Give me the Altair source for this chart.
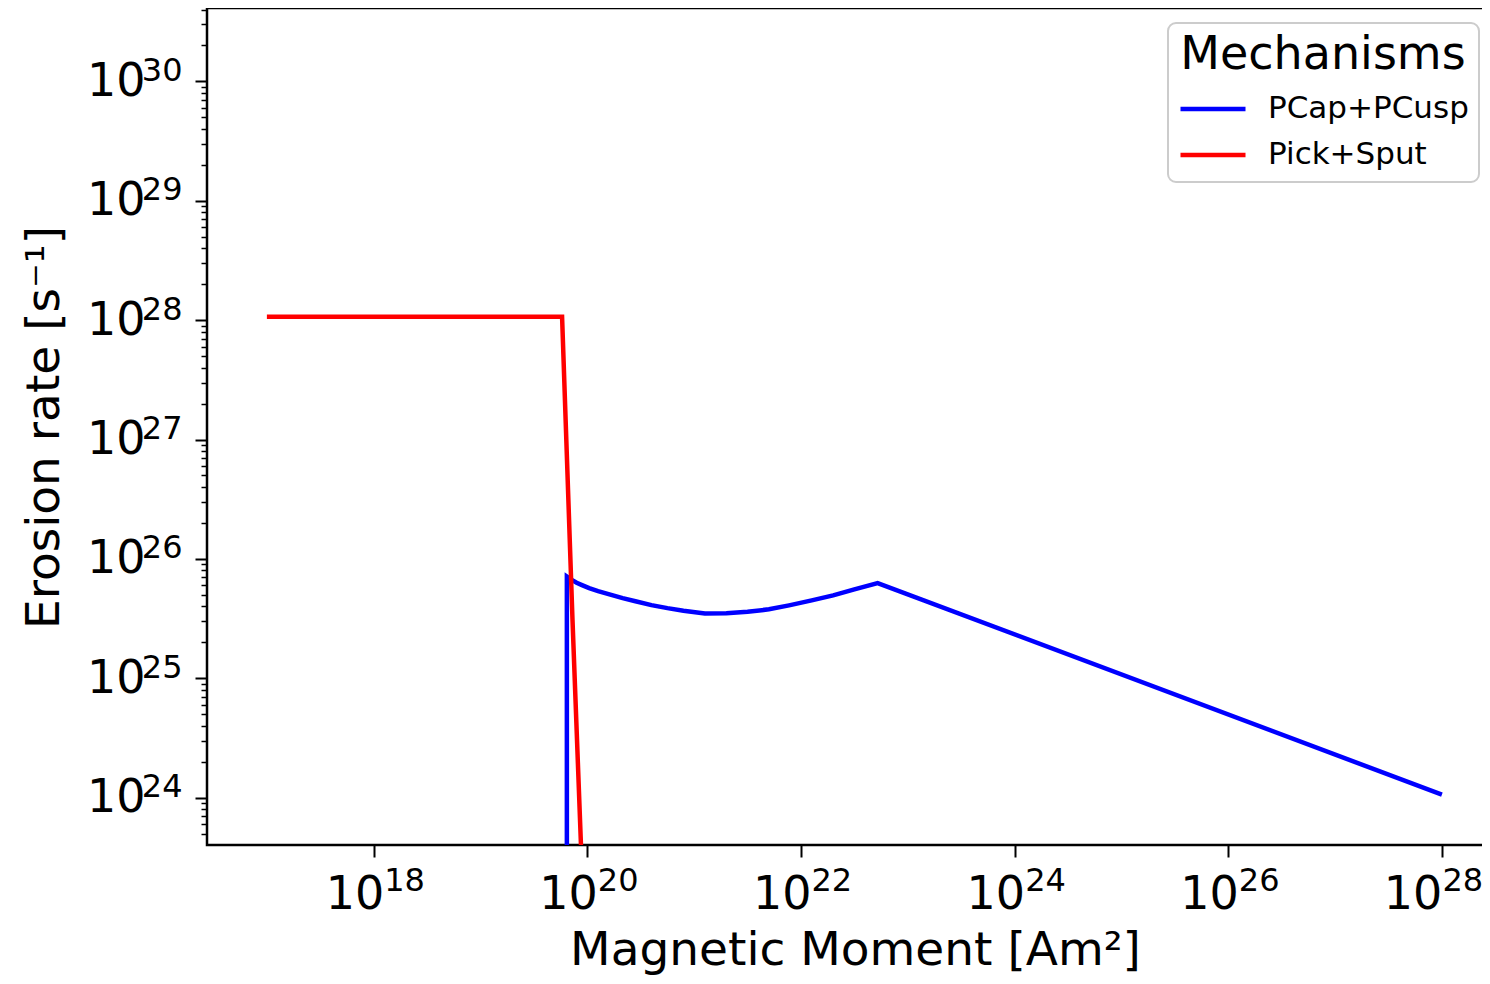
import altair as alt
import pandas as pd

FONT = "DejaVu Sans"

# ---- data ----
series_names = ["PCap+PCusp", "Pick+Sput"]
series_colors = ["#0000ff", "#ff0000"]

pcap_x = [6.43e19, 6.43e19, 7.08e19, 7.94e19, 8.91e19, 1.04e20, 1.26e20, 1.58e20,
          2.14e20, 2.82e20, 3.98e20, 5.62e20, 7.94e20, 1.26e21, 2.0e21, 3.16e21,
          5.01e21, 7.73e21, 1.26e22, 2.0e22, 3.16e22, 5.22e22, 1.0e28]
pcap_y = [1.0e20, 7.11e25, 6.70e25, 6.31e25, 6.03e25, 5.69e25, 5.37e25, 5.07e25,
          4.69e25, 4.42e25, 4.10e25, 3.87e25, 3.68e25, 3.49e25, 3.51e25, 3.60e25,
          3.78e25, 4.08e25, 4.49e25, 4.95e25, 5.56e25, 6.27e25, 1.06e24]

pick_x = [1.0e17, 5.80e19, 7.26e19, 8.71e19, 1.0e20]
pick_y = [1.07e28, 1.07e28, 3.09e25, 4.07e23, 1.0e22]

x_major = [1e18, 1e20, 1e22, 1e24, 1e26]
x_last = [1e28]  # right-most tick, its label is pulled in so it stays visible
y_major = [1e24, 1e25, 1e26, 1e27, 1e28, 1e29, 1e30]
y_minor = [k * 10.0 ** d for d in range(23, 31) for k in range(2, 10)
           if 4.01e23 <= k * 10.0 ** d <= 4.12e30]

X_DOMAIN = [2.75e16, 2.82e28]
Y_DOMAIN = [4.01e23, 4.12e30]

rows = []
for i, (xv, yv) in enumerate(zip(pcap_x, pcap_y)):
    rows.append({"series": series_names[0], "idx": i, "moment": xv, "rate": yv})
for i, (xv, yv) in enumerate(zip(pick_x, pick_y)):
    rows.append({"series": series_names[1], "idx": i, "moment": xv, "rate": yv})
df = pd.DataFrame(rows)

x_scale = alt.Scale(type="log", domain=X_DOMAIN, nice=False)
y_scale = alt.Scale(type="log", domain=Y_DOMAIN, nice=False)

exp_expr = "format(round(log(datum.value)/LN10), 'd')"


def x_base_axis(values, offset, **kw):
    return alt.Axis(orient="bottom", values=values, labelExpr="'10'",
                    labelFontSize=46, labelAlign="right", labelOffset=offset,
                    labelBaseline="alphabetic", labelPadding=51,
                    tickSize=12, tickWidth=2, tickColor="black",
                    labelOverlap=False, labelFlush=False, **kw)


def x_exp_axis(values, offset):
    return alt.Axis(orient="bottom", values=values, labelExpr=exp_expr,
                    labelFontSize=32, labelAlign="left", labelOffset=offset,
                    labelBaseline="alphabetic", labelPadding=45,
                    ticks=False, tickSize=0, labelOverlap=False,
                    labelFlush=False, title=None)


lines = alt.Chart(df).mark_line(strokeWidth=4.5, clip=True).encode(
    x=alt.X("moment:Q", scale=x_scale,
            axis=x_base_axis(x_major, 10,
                             title="Magnetic Moment [Am²]", titleFontSize=47,
                             titleX=648, titleY=119, titleBaseline="alphabetic",
                             titleAlign="center")),
    y=alt.Y("rate:Q", scale=y_scale,
            axis=alt.Axis(orient="left", values=y_major, labelExpr="'10'",
                          labelFontSize=46, labelAlign="right",
                          labelBaseline="middle", labelPadding=50,
                          tickSize=12, tickWidth=2, tickColor="black",
                          labelOverlap=False, labelFlush=False,
                          title="Erosion rate [s⁻¹]", titleFontSize=47,
                          titleAngle=270, titleX=-149, titleY=419,
                          titleBaseline="alphabetic", titleAlign="center")),
    color=alt.Color("series:N",
                    scale=alt.Scale(domain=series_names, range=series_colors),
                    legend=alt.Legend(orient="none", legendX=961, legendY=15,
                                      title="Mechanisms", titleFontSize=46,
                                      titleFont=FONT, titleFontWeight="normal",
                                      titleColor="black", titleAnchor="middle",
                                      titlePadding=13, titleLimit=600,
                                      labelFontSize=31, labelFont=FONT,
                                      labelColor="black", labelOffset=20,
                                      labelLimit=600, clipHeight=34,
                                      symbolType="stroke", symbolStrokeWidth=4.5,
                                      symbolSize=4225, rowPadding=12,
                                      padding=10, fillColor="white",
                                      strokeColor="#cccccc", cornerRadius=8)),
    order=alt.Order("idx:Q"),
)

exponents = alt.Chart(df).mark_point(opacity=0, clip=True).encode(
    x=alt.X("moment:Q", scale=x_scale, axis=x_exp_axis(x_major, 10)),
    y=alt.Y("rate:Q", scale=y_scale,
            axis=alt.Axis(orient="left", values=y_major, labelExpr=exp_expr,
                          labelFontSize=32, labelAlign="right",
                          labelBaseline="alphabetic", labelOffset=-1,
                          labelPadding=25, ticks=False, tickSize=0,
                          labelOverlap=False, labelFlush=False, title=None)),
)

minor = alt.Chart(df).mark_point(opacity=0, clip=True).encode(
    x=alt.X("moment:Q", scale=x_scale, axis=x_base_axis(x_last, 0, title=None)),
    y=alt.Y("rate:Q", scale=y_scale,
            axis=alt.Axis(orient="left", values=y_minor, labels=False,
                          tickSize=6, tickWidth=1.5, tickColor="black",
                          title=None)),
)

last_exp = alt.Chart(df).mark_point(opacity=0, clip=True).encode(
    x=alt.X("moment:Q", scale=x_scale, axis=x_exp_axis(x_last, 0)),
    y=alt.Y("rate:Q", scale=y_scale, axis=None),
)

chart = alt.layer(lines, exponents, minor, last_exp).resolve_axis(
    x="independent", y="independent"
).properties(
    width=1283, height=837,
    autosize=alt.AutoSizeParams(type="none"),
    padding={"left": 199, "top": 0, "right": -8, "bottom": 130},
).configure_view(
    stroke="black", strokeWidth=2.5
).configure_axis(
    grid=False, domain=False, labelFont=FONT, titleFont=FONT,
    labelColor="black", titleColor="black", titleFontWeight="normal",
).configure_legend(
    strokeWidth=2
)

chart.save("out.html", embed_options={"renderer": "svg", "actions": False})
